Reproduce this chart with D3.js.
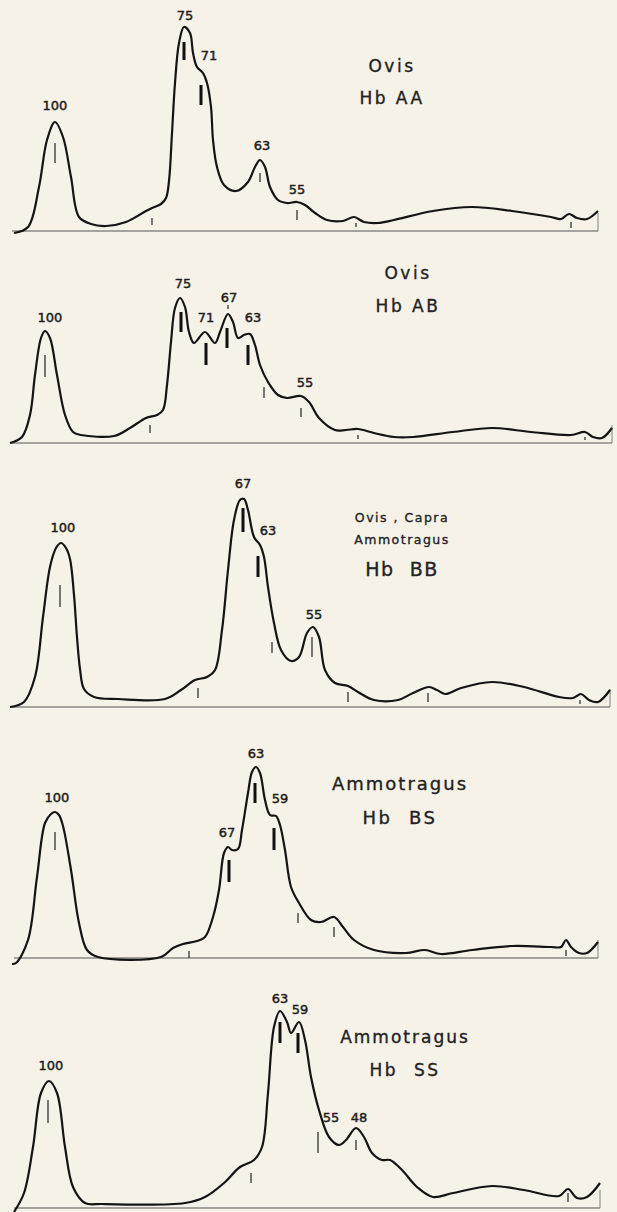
<!DOCTYPE html>
<html>
<head>
<meta charset="utf-8">
<script src="https://cdn.jsdelivr.net/npm/d3@7"></script>
<style>
  body { margin: 0; background: #f7f2e8; }
  svg { display: block; }
</style>
</head>
<body>
<div id="chart"></div>
<script>
// densitometer traces, migration distance (mm on scan) vs optical density (arbitrary units)

var traceAA = [[14,-2],[28,4],[39,44],[47,91],[55,109],[63,94],[71,54],[79,14],[91,7],[106,5],[126,9],[146,20],[152,23],[161,27],[166,33],[169,50],[172,98],[175,148],[179,188],[184,204],[190,198],[193,178],[197,164],[203,158],[207,148],[211,124],[213,91],[217,64],[224,46],[236,40],[248,49],[255,64],[260,71],[265,64],[270,44],[278,31],[287,28],[297,29],[305,26],[315,18],[327,11],[343,10],[354,14],[364,9],[378,8],[394,11],[433,20],[472,24],[512,20],[551,14],[561,12],[569,17],[577,13],[587,12],[598,20]];
var traceAB = [[10,0],[22,6],[30,28],[35,68],[41,105],[45,112],[50,105],[57,68],[65,28],[73,11],[81,8],[114,7],[130,15],[146,25],[157,28],[163,33],[167,58],[171,101],[175,135],[180,145],[185,136],[189,111],[194,100],[205,111],[215,100],[220,111],[228,129],[233,121],[238,105],[244,108],[250,109],[255,98],[260,78],[268,61],[278,48],[287,45],[301,47],[309,41],[319,25],[335,13],[346,13],[358,14],[374,10],[394,6],[413,6],[453,11],[492,15],[531,11],[571,8],[585,11],[593,6],[602,5],[612,15]];
var traceBB = [[10,0],[24,5],[35,30],[43,90],[50,140],[56,159],[61,164],[66,159],[70,148],[74,112],[77,70],[80,38],[84,18],[94,10],[118,8],[165,8],[181,17],[195,27],[207,30],[215,37],[222,77],[228,137],[234,187],[240,207],[244,208],[248,197],[254,170],[260,162],[264,150],[268,120],[274,84],[281,57],[291,46],[299,50],[307,74],[313,80],[319,70],[325,37],[335,24],[348,21],[358,15],[374,7],[398,7],[413,14],[429,20],[437,17],[445,13],[461,19],[492,25],[524,20],[559,10],[573,9],[581,13],[589,7],[598,5],[610,17]];
var traceBS = [[12,-6],[16,-5],[28,18],[37,81],[45,135],[51,144],[55,146],[59,143],[63,132],[71,88],[79,35],[87,8],[98,1],[161,1],[173,10],[183,14],[197,17],[205,21],[213,41],[219,68],[224,105],[228,111],[232,108],[238,109],[242,128],[248,165],[252,186],[256,191],[260,185],[265,158],[270,143],[276,142],[280,133],[285,108],[291,71],[299,55],[311,38],[321,36],[334,41],[343,31],[354,18],[374,8],[406,5],[425,8],[441,4],[472,8],[512,12],[551,11],[561,11],[566,18],[571,11],[579,5],[587,5],[598,16]];
var traceSS = [[14,-4],[24,15],[33,61],[41,115],[49,127],[57,115],[65,61],[73,21],[85,5],[102,4],[185,5],[205,11],[224,25],[240,41],[254,48],[262,61],[268,115],[274,181],[280,197],[287,186],[291,175],[299,186],[305,168],[311,131],[319,98],[329,71],[339,63],[346,68],[356,80],[364,71],[372,55],[382,48],[390,48],[402,38],[417,21],[433,11],[453,15],[492,22],[524,18],[559,12],[568,19],[577,10],[587,11],[600,25]];

// band marks: [position, od from, od to]
var majorAA = [[184,171,189],[201,126,146]];
var minorAA = [[55,68,88],[152,6,13],[260,49,58],[297,11,21],[356,4,8],[571,3,9]];
var majorAB = [[181,111,131],[206,78,100],[227,95,115],[248,78,98]];
var minorAB = [[45,66,88],[150,10,18],[264,45,56],[301,26,35],[358,4,8],[585,3,6],[228,134,138]];
var majorBB = [[243,175,199],[258,130,151]];
var minorBB = [[60,100,122],[198,9,19],[272,54,65],[312,50,70],[348,5,15],[428,5,14],[580,3,7]];
var majorBS = [[229,76,98],[255,155,175],[274,108,130]];
var minorBS = [[55,108,126],[189,0,7],[298,35,45],[334,21,31],[566,2,8]];
var majorSS = [[280,165,186],[298,155,175]];
var minorSS = [[48,85,108],[251,25,35],[318,55,76],[356,58,68],[568,6,15]];

// relative mobility labels: [text, position, od]
var labelsAA = [["100",55,126],["75",185,216],["71",209,176],["63",262,86],["55",297,42]];
var labelsAB = [["100",50,126],["75",183,160],["71",206,126],["67",229,146],["63",253,126],["55",305,61]];
var labelsBB = [["100",63,180],["67",243,224],["63",268,177],["55",314,93]];
var labelsBS = [["100",57,161],["63",256,205],["59",280,160],["67",227,126]];
var labelsSS = [["100",51,143],["63",280,210],["59",300,199],["55",331,91],["48",359,91]];

var titleAA = ["Ovis", "Hb AA"];
var titleAB = ["Ovis", "Hb AB"];
var titleBB = ["Ovis , Capra", "Ammotragus", "Hb  BB"];
var titleBS = ["Ammotragus", "Hb  BS"];
var titleSS = ["Ammotragus", "Hb  SS"];

var scanStart = [12, 10, 10, 14, 14];
var scanEnd = [598, 612, 610, 598, 600];

// layout
var svgWidth = 617;
var svgHeight = 1212;

var panels = [
  { trace: traceAA, major: majorAA, minor: minorAA, labels: labelsAA, title: titleAA,
    base: 231, tx: 392, ty: [66, 98], ts: [17, 17], tls: [2.5, 2.5] },
  { trace: traceAB, major: majorAB, minor: minorAB, labels: labelsAB, title: titleAB,
    base: 443, tx: 408, ty: [273, 306], ts: [17, 17], tls: [2.5, 2.5] },
  { trace: traceBB, major: majorBB, minor: minorBB, labels: labelsBB, title: titleBB,
    base: 707, tx: 402, ty: [517, 539, 569], ts: [12.5, 12.5, 19], tls: [1.5, 1.5, 1.5] },
  { trace: traceBS, major: majorBS, minor: minorBS, labels: labelsBS, title: titleBS,
    base: 958, tx: 400, ty: [784, 818], ts: [18, 18], tls: [2, 2.5] },
  { trace: traceSS, major: majorSS, minor: minorSS, labels: labelsSS, title: titleSS,
    base: 1208, tx: 405, ty: [1037, 1070], ts: [17, 17], tls: [2, 2.5] }
];

var svg = d3.select("#chart")
  .append("svg")
  .attr("width", svgWidth)
  .attr("height", svgHeight);

svg.append("rect")
  .attr("width", svgWidth)
  .attr("height", svgHeight)
  .attr("fill", "#f7f2e8");

var xScale = d3.scaleLinear()
  .domain([0, 617])
  .range([0, svgWidth]);

panels.forEach(function (p, i) {
  var yScale = d3.scaleLinear()
    .domain([0, 220])
    .range([p.base, p.base - 220]);

  var g = svg.append("g");

  // baseline of the scan
  g.append("line")
    .attr("x1", xScale(scanStart[i]))
    .attr("x2", xScale(scanEnd[i]))
    .attr("y1", yScale(0))
    .attr("y2", yScale(0))
    .attr("stroke", "#555")
    .attr("stroke-width", 1);

  g.append("line")
    .attr("x1", xScale(scanEnd[i]))
    .attr("x2", xScale(scanEnd[i]))
    .attr("y1", yScale(0))
    .attr("y2", yScale(18))
    .attr("stroke", "#666")
    .attr("stroke-width", 0.8);

  var line = d3.line()
    .x(d => xScale(d[0]))
    .y(d => yScale(d[1]))
    .curve(d3.curveCatmullRom.alpha(0.5));

  g.append("path")
    .datum(p.trace)
    .attr("d", line)
    .attr("fill", "none")
    .attr("stroke", "#141414")
    .attr("stroke-width", 2.2)
    .attr("stroke-linejoin", "round");

  // band marks
  g.selectAll(".minor")
    .data(p.minor)
    .enter()
    .append("line")
    .attr("x1", d => xScale(d[0]))
    .attr("x2", d => xScale(d[0]))
    .attr("y1", d => yScale(d[1]))
    .attr("y2", d => yScale(d[2]))
    .attr("stroke", "#222")
    .attr("stroke-width", 1.2);

  g.selectAll(".major")
    .data(p.major)
    .enter()
    .append("line")
    .attr("x1", d => xScale(d[0]))
    .attr("x2", d => xScale(d[0]))
    .attr("y1", d => yScale(d[1]))
    .attr("y2", d => yScale(d[2]))
    .attr("stroke", "#111")
    .attr("stroke-width", 3);

  // mobility labels
  g.selectAll(".lab")
    .data(p.labels)
    .enter()
    .append("text")
    .attr("x", d => xScale(d[1]))
    .attr("y", d => yScale(d[2]))
    .attr("dy", "0.36em")
    .style("font-family", "'DejaVu Sans', sans-serif")
    .style("font-size", "13px")
    .style("text-anchor", "middle")
    .style("fill", "#1c1c1c")
    .style("stroke", "#1c1c1c")
    .style("stroke-width", "0.45px")
    .text(d => d[0]);

  // title
  g.selectAll(".title")
    .data(p.title)
    .enter()
    .append("text")
    .attr("x", p.tx)
    .attr("y", (d, k) => p.ty[k])
    .attr("dy", "0.36em")
    .style("font-family", "'DejaVu Sans', sans-serif")
    .style("font-size", (d, k) => p.ts[k] + "px")
    .style("letter-spacing", (d, k) => p.tls[k] + "px")
    .style("text-anchor", "middle")
    .style("white-space", "pre")
    .style("fill", "#222")
    .style("stroke", "#222")
    .style("stroke-width", "0.35px")
    .text(d => d);
});
</script>
</body>
</html>
